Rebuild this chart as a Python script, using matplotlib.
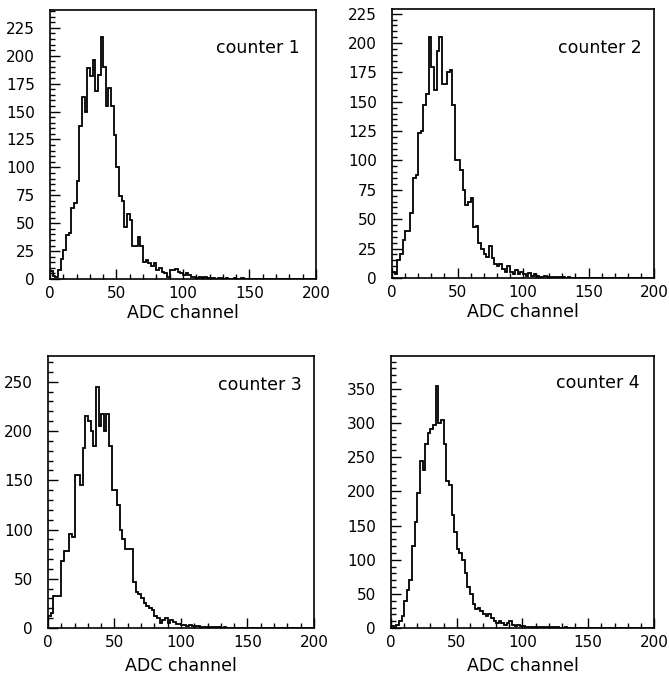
"""Four ADC spectra, one panel per counter (scan recreation)."""
import numpy as np
import matplotlib
matplotlib.use("Agg")
import matplotlib.pyplot as plt
from matplotlib.ticker import MultipleLocator

# bin edges: 0..200 in steps of 2 ADC channels
edges = np.arange(0, 202, 2)

counter1 = [7, 3, 2, 8, 18, 26, 39, 41, 64, 68,
            88, 137, 163, 150, 189, 182, 196, 168, 183, 217,
            190, 155, 171, 155, 129, 100, 74, 70, 47, 58,
            53, 30, 30, 38, 30, 15, 17, 14, 12, 14,
            8, 10, 6, 5, 2, 8, 8, 9, 6, 5,
            4, 5, 4, 2, 2, 1, 2, 1, 2, 1,
            1, 1, 0, 1, 1, 0, 1, 0, 0, 1,
            0, 0, 1, 0, 0, 0, 0, 0, 0, 0,
            0, 0, 0, 0, 0, 0, 0, 0, 0, 0,
            0, 0, 0, 0, 0, 0, 0, 0, 0, 0]
counter2 = [5, 3, 15, 20, 32, 40, 40, 55, 85, 88,
            123, 125, 147, 157, 205, 180, 160, 193, 205, 165,
            165, 175, 177, 147, 100, 100, 92, 75, 62, 65,
            68, 43, 44, 30, 25, 20, 18, 27, 17, 12,
            10, 12, 8, 5, 10, 5, 3, 7, 3, 5,
            3, 2, 4, 2, 3, 2, 1, 1, 2, 1,
            1, 1, 1, 1, 1, 1, 0, 1, 0, 0,
            0, 0, 0, 0, 0, 0, 0, 0, 0, 0,
            0, 0, 0, 0, 0, 0, 0, 0, 0, 0,
            0, 0, 0, 0, 0, 0, 0, 0, 0, 0]
counter3 = [12, 15, 33, 33, 33, 68, 78, 78, 95, 92,
            155, 155, 145, 183, 215, 210, 200, 185, 245, 205,
            217, 200, 217, 185, 140, 140, 125, 100, 90, 80,
            80, 80, 47, 37, 35, 30, 25, 22, 20, 18,
            12, 10, 5, 8, 10, 5, 8, 6, 4, 4,
            3, 3, 2, 3, 2, 2, 2, 1, 1, 1,
            1, 1, 1, 1, 1, 0, 1, 0, 0, 0,
            0, 0, 0, 0, 0, 0, 0, 0, 0, 0,
            0, 0, 0, 0, 0, 0, 0, 0, 0, 0,
            0, 0, 0, 0, 0, 0, 0, 0, 0, 0]
counter4 = [3, 0, 5, 10, 18, 40, 55, 70, 120, 155,
            198, 245, 232, 270, 285, 292, 297, 355, 300, 305,
            270, 215, 210, 165, 140, 115, 110, 100, 80, 60,
            50, 35, 28, 30, 25, 20, 18, 20, 15, 10,
            8, 10, 7, 5, 8, 10, 5, 3, 5, 3,
            3, 2, 2, 2, 1, 2, 1, 1, 1, 2,
            1, 1, 1, 1, 0, 0, 1, 0, 0, 0,
            0, 0, 0, 0, 0, 0, 0, 0, 0, 0,
            0, 0, 0, 0, 0, 0, 0, 0, 0, 0,
            0, 0, 0, 0, 0, 0, 0, 0, 0, 0]

labels = ["counter 1", "counter 2", "counter 3", "counter 4"]
series = [counter1, counter2, counter3, counter4]
ymax = [241, 229, 276, 398]
ymajor = [25, 25, 50, 50]
yminor = [5, 5, 10, 10]

# axes boxes in figure fraction (left, bottom, width, height)
boxes = [(0.0747, 0.5915, 0.3976, 0.3939),
         (0.586, 0.593, 0.3916, 0.3939),
         (0.0717, 0.0805, 0.3976, 0.398),
         (0.5845, 0.0805, 0.393, 0.398)]
text_pos = [(0.94, 0.86), (0.954, 0.855), (0.955, 0.893), (0.947, 0.90)]

fig = plt.figure(figsize=(6.69, 6.83), dpi=100)
for i in range(4):
    ax = fig.add_axes(boxes[i])
    ax.stairs(series[i], edges, color="black", lw=1.3)
    ax.set_xlim(0, 200)
    ax.set_ylim(0, ymax[i])
    ax.xaxis.set_major_locator(MultipleLocator(50))
    ax.xaxis.set_minor_locator(MultipleLocator(10))
    ax.yaxis.set_major_locator(MultipleLocator(ymajor[i]))
    ax.yaxis.set_minor_locator(MultipleLocator(yminor[i]))
    ax.tick_params(which="both", direction="in", top=False, right=False,
                   width=1.0, color="black")
    ax.tick_params(which="major", length=7, labelsize=11)
    ax.tick_params(which="minor", length=3.5)
    ax.tick_params(axis="y", which="major", pad=11)
    ax.tick_params(axis="x", which="major", pad=5)
    for s in ax.spines.values():
        s.set_linewidth(1.2)
    ax.set_xlabel("ADC channel", fontsize=12.5, labelpad=2 if i < 2 else 5)
    ax.text(*text_pos[i], labels[i], transform=ax.transAxes, ha="right",
            va="center", fontsize=12.5)

fig.savefig("out.png", dpi=100)
